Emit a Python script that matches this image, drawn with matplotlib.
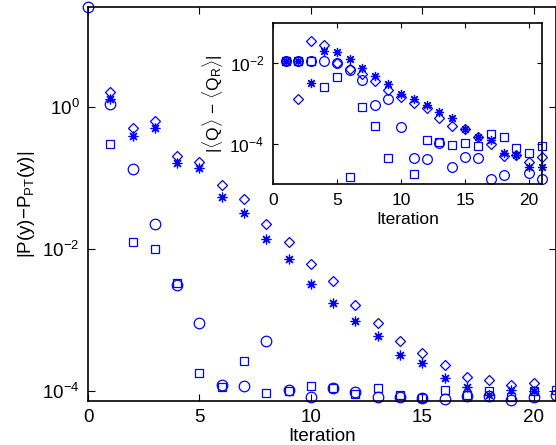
import numpy as np
import matplotlib
matplotlib.use("Agg")
import matplotlib.pyplot as plt

plt.rcParams['font.family'] = ['Liberation Sans', 'DejaVu Sans']
plt.rcParams['mathtext.fontset'] = 'custom'
plt.rcParams['mathtext.rm'] = 'Liberation Sans'
plt.rcParams['mathtext.it'] = 'Liberation Sans:italic'
plt.rcParams['mathtext.bf'] = 'Liberation Sans:bold'

nan = np.nan
# ---------------- main panel data ----------------
main_x_circ = list(range(0, 22))
main_circ = [26.3, 1.10, 0.135, 0.0227, 0.0031, 8.9e-4, 1.20e-4, 1.16e-4, 5.08e-4, 1.02e-4,
             8.2e-5, 1.08e-4, 9.7e-5, 8.1e-5, 8.2e-5, 7.8e-5, 7.6e-5, 8.4e-5, 8.5e-5, 7.4e-5,
             8.1e-5, 8.7e-5]
main_x_sq = list(range(1, 22))
main_sq = [0.303, 0.0124, 0.0099, 0.00334, 1.76e-4, 1.12e-4, 2.67e-4, 9.2e-5, 9.9e-5, 1.18e-4,
           1.08e-4, 8.9e-5, 1.08e-4, 8.7e-5, 7.8e-5, 1.02e-4, 8.7e-5, 1.0e-4, 8.2e-5, 1.0e-4,
           1.02e-4]
main_x_dia = list(range(1, 21))
main_dia = [1.63, 0.506, 0.647, 0.206, 0.171, 0.080, 0.0508, 0.0224, 0.0127, 0.00608,
            0.00357, 0.0016, 9.1e-4, 4.98e-4, 3.37e-4, 2.31e-4, 1.58e-4, 1.42e-4, 1.20e-4, 1.27e-4]
main_x_star = list(range(1, 21))
main_star = [1.30, 0.394, 0.515, 0.162, 0.138, 0.0537, 0.0322, 0.0138, 0.00716, 0.00318,
             0.00171, 9.6e-4, 5.9e-4, 3.19e-4, 2.48e-4, 1.50e-4, 1.12e-4, 8.7e-5, 1.02e-4, 1.0e-4]

# ---------------- inset data ----------------
ins_x = list(range(1, 22))
ins_circ = [0.01146, 0.01146, 0.01146, 0.01146, 0.00989, 0.00675, 0.00382, 9.2e-4, 0.00127, 2.58e-4,
            4.55e-5, 4.16e-5, 1.03e-4, 2.64e-5, 4.82e-5, 4.4e-5, 1.33e-5, 1.67e-5, nan, 1.94e-5,
            1.33e-5]
ins_sq = [0.01146, 0.01146, 0.01146, 0.00252, 0.00445, 1.49e-5, 8.3e-4, 2.77e-4, 4.55e-5, nan,
          1.8e-5, 1.25e-4, 1.13e-4, 9.4e-5, 1.03e-4, 8.9e-5, 1.73e-4, 1.46e-4, 8.05e-5, 6.05e-5,
          8.9e-5]
ins_dia = [0.01146, 0.00129, 0.0347, 0.0276, 0.00989, 0.00703, 0.00528, 0.00367, 0.00216, 0.00142,
           0.00101, 7.6e-4, 4.3e-4, 2.77e-4, 2.34e-4, 1.46e-4, 9.95e-5, 5.0e-5, 5.3e-5, 3.6e-5,
           4.8e-5]
ins_star = [0.01146, 0.01146, 0.00316, 0.0199, 0.0191, 0.0124, 0.00743, 0.0048, 0.00304, 0.00172,
            0.00129, 9.2e-4, 6.3e-4, 4.3e-4, 2.34e-4, 1.46e-4, 1.25e-4, 5.85e-5, 5.3e-5, 2.73e-5,
            2.73e-5]

xticks = [0, 5, 10, 15, 20]
main_yticks = [1e-4, 1e-2, 1e0]
ins_yticks = [1e-4, 1e-2]

blue = (0, 0, 1)
asterisk = (8, 2, 0)

fig = plt.figure(figsize=(5.56, 4.45), dpi=100)
W, H = 556, 445

def style(ax, fs, ticklen):
    ax.tick_params(which='both', direction='in', top=True, right=True, labelsize=fs,
                   length=ticklen, width=0.8, pad=6)
    ax.tick_params(which='minor', length=0)
    for s in ax.spines.values():
        s.set_linewidth(1.2)

def draw(ax, xs, ys, marker, ms, mew=0.9):
    ax.plot(xs, ys, linestyle='none', marker=marker, markersize=ms, markerfacecolor='none',
            markeredgecolor=blue, markeredgewidth=mew, clip_on=False)

# main axes
ax = fig.add_axes([88 / W, 44 / H, 468 / W, 394 / H])
ax.set_yscale('log')
draw(ax, main_x_circ, main_circ, 'o', 7.6)
draw(ax, main_x_sq, main_sq, 's', 6.0)
draw(ax, main_x_dia, main_dia, 'D', 5.4)
draw(ax, main_x_star, main_star, asterisk, 7.0, 0.9)
ax.set_xlim(0, 21)
ax.set_ylim(10 ** -4.145, 10 ** 1.416)
ax.set_xticks(xticks)
ax.set_yticks(main_yticks)
ax.yaxis.set_minor_locator(matplotlib.ticker.NullLocator())
style(ax, 13.5, 5)
ax.set_xlabel('Iteration', fontsize=13.5, labelpad=1.5)
ax.set_ylabel(r'|P(y)$-$P$_{\mathrm{PT}}$(y)|', fontsize=13.5, labelpad=4)

# inset axes
ai = fig.add_axes([272.7 / W, (H - 184.3) / H, 269.3 / W, 161.6 / H])
ai.set_yscale('log')
draw(ai, ins_x, ins_circ, 'o', 7.0)
draw(ai, ins_x, ins_sq, 's', 5.6)
draw(ai, ins_x, ins_dia, 'D', 5.0)
draw(ai, ins_x, ins_star, asterisk, 6.6, 0.9)
ai.set_xlim(0, 21)
ai.set_ylim(1e-5, 1e-1)
ai.set_xticks(xticks)
ai.set_yticks(ins_yticks)
ai.yaxis.set_minor_locator(matplotlib.ticker.NullLocator())
style(ai, 12.5, 3.5)
ai.set_xlabel('Iteration', fontsize=12.5, labelpad=3)
ai.set_ylabel(r'|$\langle$Q$\rangle$ $-$ $\langle$Q$_{\mathrm{R}}\rangle$|', fontsize=12.5, labelpad=3)

fig.savefig('out.png', dpi=100)
